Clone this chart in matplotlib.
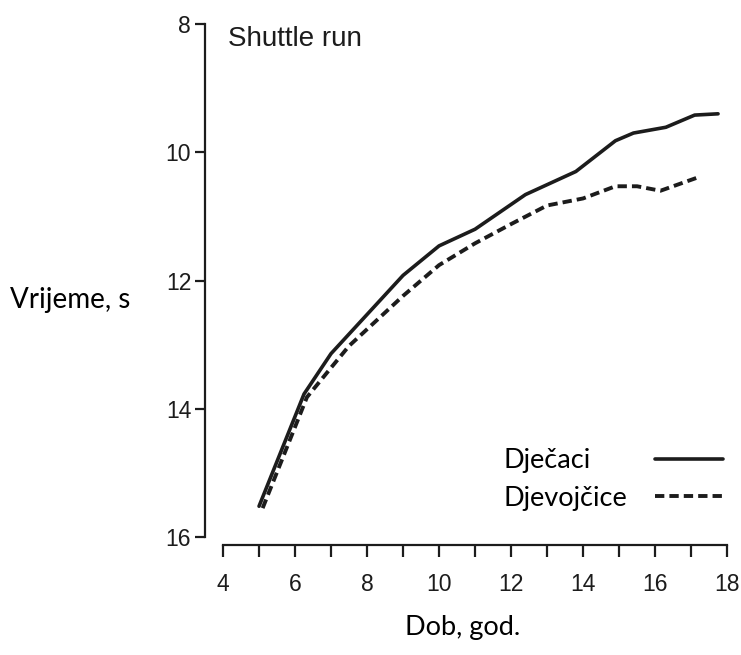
import matplotlib.pyplot as plt
from matplotlib.ticker import MultipleLocator

# values (age in years, shuttle run time in s)
boys_age = [5.0, 6.25, 7.0, 8.0, 9.0, 10.0, 11.0, 12.4, 13.8, 14.9, 15.4, 16.3, 17.1, 17.75]
boys_time = [15.52, 13.77, 13.14, 12.53, 11.92, 11.46, 11.2, 10.66, 10.3, 9.82, 9.70, 9.61, 9.42, 9.40]

girls_age = [5.1, 6.33, 7.0, 7.5, 8.5, 9.0, 10.0, 11.0, 12.0, 13.0, 14.0, 14.9, 15.5, 16.15, 17.25]
girls_time = [15.55, 13.82, 13.36, 13.02, 12.5, 12.24, 11.76, 11.42, 11.12, 10.83, 10.72, 10.53, 10.53, 10.60, 10.38]

labels = ["Dječaci", "Djevojčice"]
x_ticks = [4, 6, 8, 10, 12, 14, 16, 18]
y_ticks = [8, 10, 12, 14, 16]

ink = "#1c1c1c"
tick_font = "Liberation Sans"
label_font = "Lato"

fig = plt.figure(figsize=(7.41, 6.55), dpi=100)
ax = fig.add_axes([0.2767, 0.1679, 0.7069, 0.8003])

boys, = ax.plot(boys_age, boys_time, color=ink, lw=2.6, solid_capstyle="round")
girls, = ax.plot(girls_age, girls_time, color=ink, lw=2.8, ls=(0, (2.4, 1.3)))

ax.set_xlim(3.5, 18.05)
ax.set_ylim(16.125, 7.95)

for side in ["top", "right"]:
    ax.spines[side].set_visible(False)
for side in ["left", "bottom"]:
    ax.spines[side].set_linewidth(1.6)
    ax.spines[side].set_color(ink)
ax.spines["left"].set_bounds(8, 16)
ax.spines["bottom"].set_bounds(4, 18)

ax.set_xticks(x_ticks)
ax.xaxis.set_minor_locator(MultipleLocator(1))
ax.set_yticks(y_ticks)
ax.tick_params(axis="x", which="both", direction="out", length=8.5, width=1.6,
               color=ink, pad=12, labelsize=16.5)
ax.tick_params(axis="y", direction="out", length=7, width=1.6, color=ink,
               pad=3, labelsize=16.5)
for t in ax.get_xticklabels() + ax.get_yticklabels():
    t.set_fontfamily(tick_font)
    t.set_color(ink)

ax.text(4.14, 8.23, "Shuttle run", fontsize=20, family=tick_font, color=ink,
        va="center", ha="left")

fig.text(10 / 741, 1 - 300 / 655, "Vrijeme, s", fontsize=20, family=label_font,
         va="center", ha="left")
fig.text(463 / 741, 1 - 628 / 655, "Dob, god.", fontsize=19.5, family=label_font,
         va="center", ha="center")

# legend: labels on the left, line samples on the right
leg_text = ax.legend([boys, girls], labels, loc="center left",
                     bbox_to_anchor=(0.569, 0.125), frameon=False,
                     handlelength=0, handletextpad=0, borderpad=0,
                     borderaxespad=0, labelspacing=0.45,
                     prop={"family": label_font, "size": 19.5})
for h in leg_text.legend_handles:
    h.set_visible(False)
ax.add_artist(leg_text)
ax.legend([boys, girls], ["", ""], loc="center left",
          bbox_to_anchor=(0.859, 0.125), frameon=False,
          handlelength=2.5, handletextpad=0, borderpad=0,
          borderaxespad=0, labelspacing=0.45,
          prop={"family": label_font, "size": 19.5})

fig.savefig("out.png", dpi=100)
